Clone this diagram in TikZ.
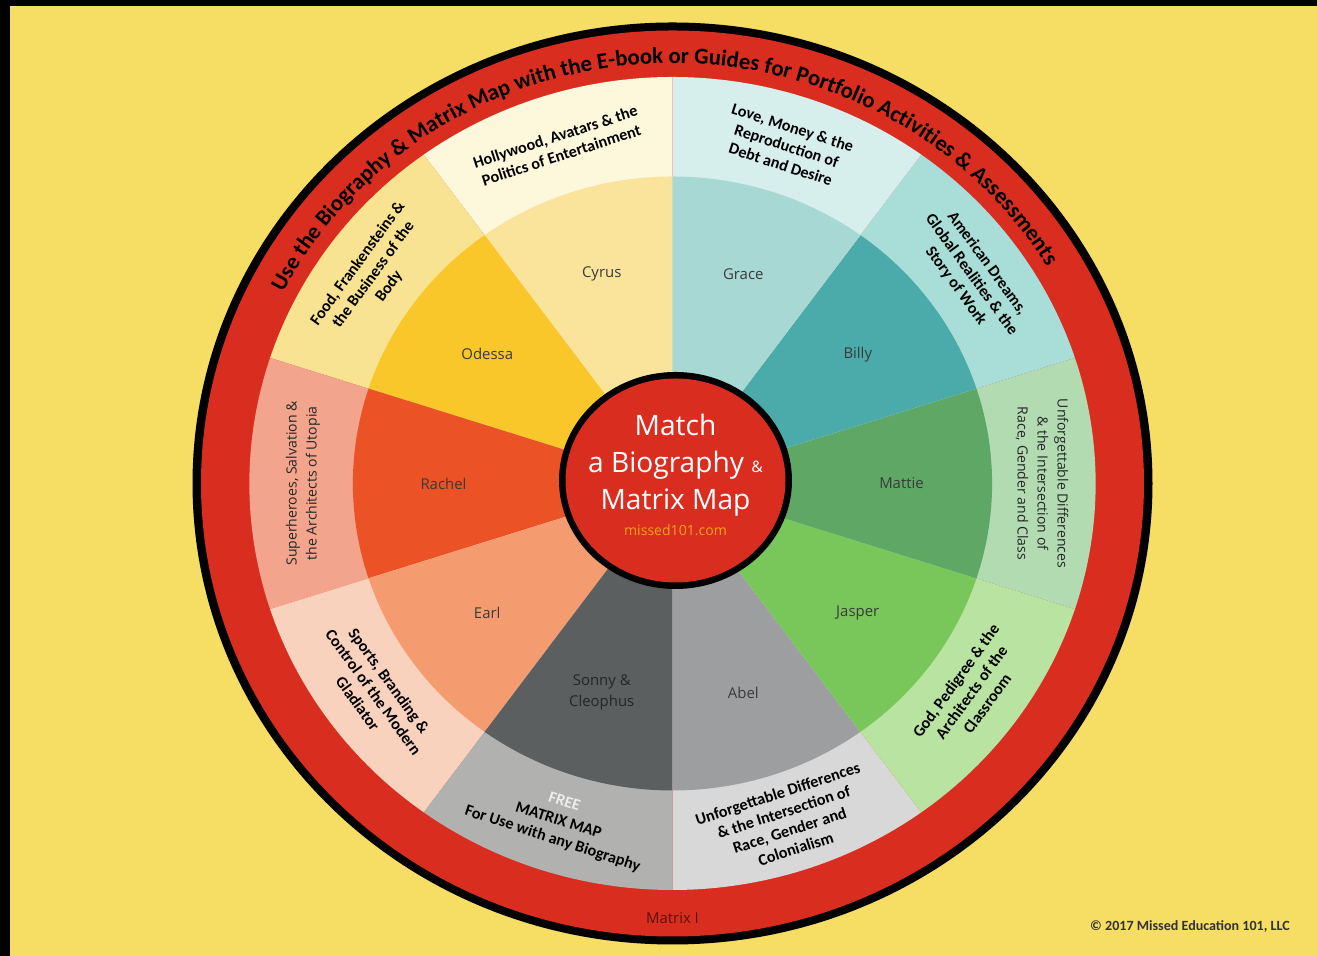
\documentclass[tikz,border=0pt]{standalone}
\usepackage{fontspec}
\setmainfont{Carlito}
\newfontfamily\namefont{Open Sans}
\usetikzlibrary{positioning, decorations.text}
\definecolor{yellowbg}{HTML}{F6DD64}
\definecolor{ringred}{HTML}{D92D20}
\definecolor{cyrusin}{HTML}{FAE39B}
\definecolor{cyrusout}{HTML}{FDF7DC}
\definecolor{odessain}{HTML}{F9C72A}
\definecolor{odessaout}{HTML}{F8E393}
\definecolor{rachelin}{HTML}{EB5226}
\definecolor{rachelout}{HTML}{F2A48C}
\definecolor{earlin}{HTML}{F49C70}
\definecolor{earlout}{HTML}{F9D2BE}
\definecolor{sonnyin}{HTML}{5C5F5F}
\definecolor{sonnyout}{HTML}{B1B1AF}
\definecolor{abelin}{HTML}{9C9EA0}
\definecolor{abelout}{HTML}{D8D8D8}
\definecolor{jasperin}{HTML}{79C75A}
\definecolor{jasperout}{HTML}{B9E3A1}
\definecolor{mattiein}{HTML}{5EA764}
\definecolor{mattieout}{HTML}{B2DBB2}
\definecolor{billyin}{HTML}{4BABAA}
\definecolor{billyout}{HTML}{A8DDD8}
\definecolor{gracein}{HTML}{A8D8D4}
\definecolor{graceout}{HTML}{D6EEEC}
\definecolor{nametext}{HTML}{3A3A3A}
\definecolor{freegray}{HTML}{EDEDED}
\definecolor{siteorange}{HTML}{F5A31A}
\definecolor{matrixred}{HTML}{5A1208}
\definecolor{copytext}{HTML}{333333}

\begin{document}
\begin{tikzpicture}[
		topic/.style = {font=\bfseries\fontsize{9.2}{11}\selectfont, align=center, text=black},
		topiclight/.style = {font=\namefont\fontsize{8}{11.4}\selectfont, align=center, text=black!85},
		person/.style = {font=\namefont\fontsize{8.5}{12}\selectfont, align=center, text=nametext},
		title/.style = {font=\namefont\fontsize{16}{21}\selectfont, align=center, text=white},
	]
	\useasboundingbox (0,0) rectangle (26.34,19.12);
	\fill[yellowbg] (0,0) rectangle (26.34,19.12);
	\fill[black] (0,19.0) rectangle (26.34,19.12);
	\fill[black] (0,0) rectangle (0.2,19.12);

	\begin{scope}[shift={(13.45,9.45)}]
		\fill[black] (0,0) ellipse [x radius=9.6, y radius=9.22];
		\fill[ringred] (0,0) ellipse [x radius=9.43, y radius=9.06];

		% ten slices, outer band then inner wedge
		\foreach \s/\col in {90/cyrus, 126/odessa, 162/rachel, 198/earl, 234/sonny, 270/abel, 306/jasper, 342/mattie, 18/billy, 54/grace}{
			\fill[\col out] (0,0) -- (\s:8.463cm and 8.13cm) arc[start angle=\s, delta angle=36, x radius=8.463, y radius=8.13] -- cycle;
			\fill[\col in] (0,0) -- (\s:6.392cm and 6.14cm) arc[start angle=\s, delta angle=36, x radius=6.392, y radius=6.14] -- cycle;
		}

		\path[decorate, decoration={text along path, text align=center,
				text={|\bfseries\fontsize{12.9}{12.9}\selectfont|Use the Biography {\&} Matrix Map with the E-book or Guides for Portfolio Activities {\&} Assessments}}]
			(157:8.744cm and 8.4cm) arc[start angle=157, end angle=27, x radius=8.744, y radius=8.4];

		\foreach \m/\who/\txt in {108/Cyrus/Cyrus, 144/Odessa/Odessa, 180/Rachel/Rachel, 216/Earl/Earl, 288/Abel/Abel, 324/Jasper/Jasper, 0/Mattie/Mattie, 36/Billy/Billy, 72/Grace/Grace}
			\node[person] (\who) at (\m:4.58cm and 4.4cm) {\txt};
		\node[person, text=black!85] (Sonny) at (252:4.58cm and 4.4cm) {Sonny \&\\Cleophus};

		\foreach \m/\rot/\who/\sty/\txt in {
				108/18/CyrusT/topic/{Hollywood, Avatars \& the\\Politics of Entertainment},
				72/-18/GraceT/topic/{Love, Money \& the\\Reproduction of\\Debt and Desire},
				36/-54/BillyT/topic/{American Dreams,\\Global Realities \& the\\Story of Work},
				0/-90/MattieT/topiclight/{Unforgettable Differences\\\& the Intersection of\\Race, Gender and Class},
				324/54/JasperT/topic/{God, Pedigree \& the\\Architects of the\\Classroom},
				288/18/AbelT/topic/{Unforgettable Differences\\\& the Intersection of\\Race, Gender and\\Colonialism},
				252/-18/SonnyT/topic/{{\color{freegray}FREE}\\MATRIX MAP\\For Use with any Biography},
				216/-54/EarlT/topic/{Sports, Branding \&\\Control of the Modern\\Gladiator},
				180/90/RachelT/topiclight/{Superheroes, Salvation \&\\the Architects of Utopia},
				144/54/OdessaT/topic/{Food, Frankensteins \&\\the Business of the\\Body}}
			\node[\sty, rotate=\rot] (\who) at (\m:7.39cm and 7.1cm) {\txt};

		\node[person, text=matrixred] (matrix) at (0,-8.69) {Matrix I};

		\begin{scope}[shift={(0.06,0.06)}]
			\fill[black] (0,0) ellipse [x radius=2.33, y radius=2.17];
			\fill[ringred] (0,0) ellipse [x radius=2.2, y radius=2.04];
			\node[title] (match) at (0,0.3) {Match\\a Biography {\fontsize{9}{9}\selectfont\&}\\Matrix Map};
			\node[font=\namefont\fontsize{8}{8}\selectfont, text=siteorange] (site) at (0,-1.0) {missed101.com};
		\end{scope}
	\end{scope}

	\node[font=\bfseries\fontsize{8}{8}\selectfont, text=copytext] (copy) at (23.8,0.58) {\textcopyright\ 2017 Missed Education 101, LLC};
\end{tikzpicture}
\end{document}
